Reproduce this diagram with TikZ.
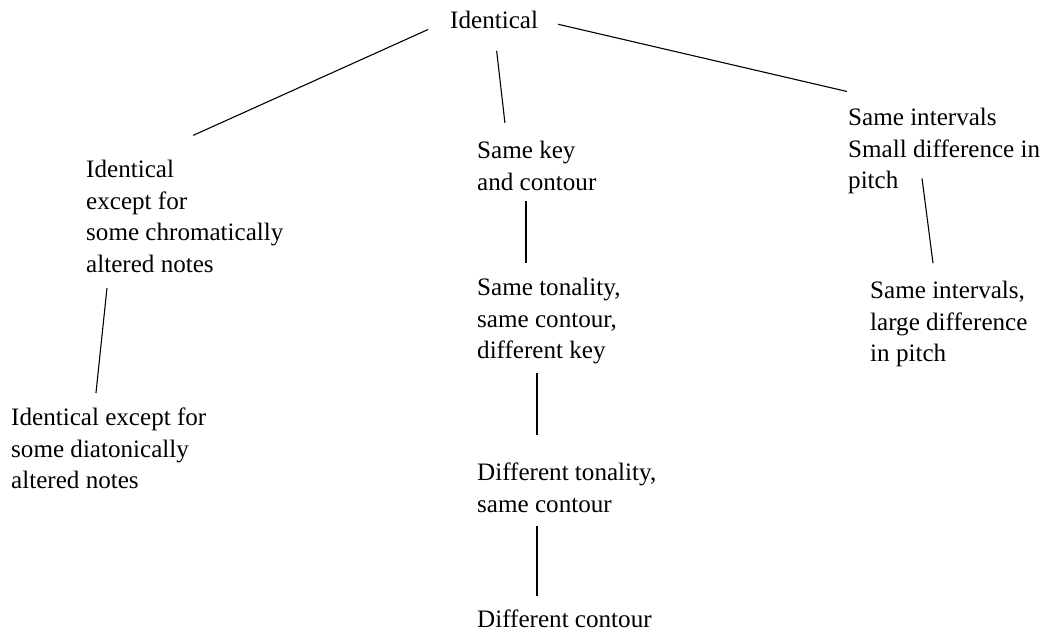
\documentclass[tikz,border=0pt]{standalone}
\usepackage{fontspec}
\setmainfont{Liberation Serif}
\usepackage{tikz}
\usetikzlibrary{calc}
\usetikzlibrary{positioning}

\begin{document}
\begin{tikzpicture}[x=1pt, y=-1pt, font=\fontsize{25.1}{31.5}\selectfont,
  txt/.style={anchor=north west, inner sep=0pt, align=left},
  edge/.style={draw, line width=1.1pt},
]
\useasboundingbox (0,0) rectangle (1050,632);
%top
\node[txt] (root) at (450,10.6) {Identical};
%left branch
\node[txt] (chrom) at (86,160) {Identical\\except for\\some chromatically\\altered notes};
\node[txt] (diat) at (11,408) {Identical except for\\some diatonically\\altered notes};
%middle branch
\node[txt] (key) at (477,141) {Same key\\and contour};
\node[txt] (tonal) at (477,278) {Same tonality,\\same contour,\\different key};
\node[txt] (difftonal) at (477,463) {Different tonality,\\same contour};
\node[txt] (diffcont) at (477,610) {Different contour};
%right branch
\node[txt] (smallint) at (848,108) {Same intervals\\Small difference in\\pitch};
\node[txt] (largeint) at (870,281) {Same intervals,\\large difference\\in pitch};

\foreach \fr / \frx / \tonode / \tox / \sa / \sb in {
  root.west/0/chrom.north west/52.5/24/60,
  root.south/0/key.north west/30/22.4/18.1,
  root.east/0/smallint.north west/70/20.5/72.9,
  key.south west/49/tonal.north west/49/10.5/15,
  tonal.south west/60/difftonal.north west/60/8.6/28,
  difftonal.south west/60/diffcont.north west/60/13/14,
  chrom.south west/22.6/diat.north west/83.4/15.6/15.1,
  smallint.west/70.5/largeint.north west/65.3/27.5/18.1 }
\draw[edge, shorten <=\sa pt, shorten >=\sb pt]
  ([xshift=\frx pt]\fr) -- ([xshift=\tox pt]\tonode);
\end{tikzpicture}
\end{document}
